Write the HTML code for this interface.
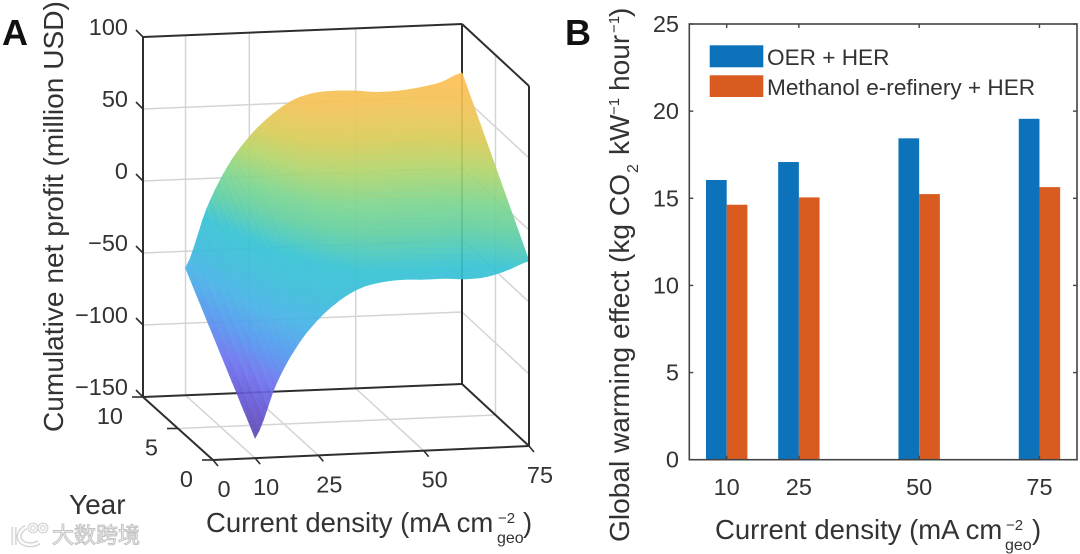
<!DOCTYPE html>
<html>
<head>
<meta charset="utf-8">
<style>
html,body{margin:0;padding:0;background:#fff;overflow:hidden;}
svg{display:block;filter:blur(0.35px);}
text{font-family:"Liberation Sans","Noto Sans CJK SC",sans-serif;fill:#333;}
</style>
</head>
<body>
<svg id="fig" width="1080" height="554" viewBox="0 0 1080 554">
  <g id="panelA"></g>
  <g id="panelB"></g>

  <text x="2" y="45" font-size="36" font-weight="bold" style="fill:#111">A</text>
  <text x="565" y="45" font-size="36" font-weight="bold" style="fill:#111">B</text>

  <text transform="translate(63,432) rotate(-90)" font-size="28.1">Cumulative net profit (million USD)</text>
  <text x="69" y="514" font-size="28">Year</text>
  <g>
    <text x="206" y="532" font-size="27.5">Current density (mA cm</text>
    <text x="498" y="523" font-size="15">−2</text>
    <text x="497" y="543" font-size="16">geo</text>
    <text x="523" y="532" font-size="27.5">)</text>
  </g>

  <g>
    <text transform="translate(629,542) rotate(-90)" font-size="28.1">Global warming effect (kg CO</text>
    <text transform="translate(638,173) rotate(-90)" font-size="16">2</text>
    <text transform="translate(629,155) rotate(-90)" font-size="28.1">kW</text>
    <text transform="translate(619,115) rotate(-90)" font-size="15">−1</text>
    <text transform="translate(629,91) rotate(-90)" font-size="28.1">hour</text>
    <text transform="translate(619,33) rotate(-90)" font-size="15">−1</text>
    <text transform="translate(629,17) rotate(-90)" font-size="28.1">)</text>
  </g>
  <g>
    <text x="715" y="539" font-size="27.5">Current density (mA cm</text>
    <text x="1006" y="530" font-size="15">−2</text>
    <text x="1005" y="550" font-size="16">geo</text>
    <text x="1032" y="539" font-size="27.5">)</text>
  </g>

  <g>
    <rect x="709.7" y="45.3" width="53.6" height="22" fill="#0c72ba"/>
    <text x="767" y="65" font-size="22.6">OER + HER</text>
    <rect x="709.7" y="75.3" width="53.6" height="21.7" fill="#d95b20"/>
    <text x="767" y="95" font-size="22.6">Methanol e-refinery + HER</text>
  </g>

  <g>
    <g fill="none" stroke="#cfcfcf" stroke-width="5">
      <path d="M14 527 L14 545"/>
      <path d="M26 527 C19 531 18 537 20 540 C24 546 34 546 39 542"/>
      <circle cx="33" cy="528" r="3.6" stroke-width="3.6"/>
      <circle cx="43" cy="528" r="3.6" stroke-width="3.6"/>
    </g>
    <g fill="none" stroke="#fbfbfb" stroke-width="2.6">
      <path d="M14 527 L14 545"/>
      <path d="M26 527 C19 531 18 537 20 540 C24 546 34 546 39 542"/>
      <circle cx="33" cy="528" r="3.6" stroke-width="1.6"/>
      <circle cx="43" cy="528" r="3.6" stroke-width="1.6"/>
    </g>
    <text x="52" y="543" font-size="22" style="fill:#f6f6f6;stroke:#c4c4c4;stroke-width:1">大数跨境</text>
  </g>
</svg>

<script>
// ---------- Panel A data ----------
var surfaceCurrents = [10,15,20,25,30,35,40,45,50,55,60,65,70,75];
var surfaceYears = [0,10];
var profitYear0 = [-136,-99,-73,-55.4,-43,-35,-31.6,-30.5,-31,-31,-32,-31,-27,-21.5];
var profitYear10 = [-61.6,-21,8,27.6,41.5,51.4,56,57,56.5,55,55.3,57,60,66];
var zTickValues = [100,50,0,-50,-100,-150];
var currentTicksA = [0,10,25,50,75];
var yearTicks = [0,5,10];

// ---------- Panel B data ----------
var barCategories = [10,25,50,75];
var oerHerValues = [16.05,17.08,18.44,19.56];
var methanolValues = [14.63,15.05,15.24,15.64];
var yTicksB = [0,5,10,15,20,25];

var NS = 'http://www.w3.org/2000/svg';
function mk(tag, parent, attrs){
  var e = document.createElementNS(NS, tag);
  for (var k in attrs) e.setAttribute(k, attrs[k]);
  parent.appendChild(e);
  return e;
}
function minusFmt(v){ return v < 0 ? '\u2212' + Math.abs(v) : String(v); }

// ---------- Panel A axes (box projection) ----------
var FL = [213,460], FR = [529,446], BL = [143,397], BR = [462,384];
var CUR_MAX = 75, YEAR_MAX = 10, Z_MIN = -150, Z_SCALE = 1.44;
function project(cur, year, z){
  var u = cur / CUR_MAX, v = year / YEAR_MAX;
  var fx = FL[0] + (FR[0]-FL[0])*u, fy = FL[1] + (FR[1]-FL[1])*u;
  var bx = BL[0] + (BR[0]-BL[0])*u, by = BL[1] + (BR[1]-BL[1])*u;
  return [fx + (bx-fx)*v, fy + (by-fy)*v - (z - Z_MIN)*Z_SCALE];
}
var A = document.getElementById('panelA');
function lineA(p, q, name, stroke, width){
  var l = mk('line', A, {x1:p[0], y1:p[1], x2:q[0], y2:q[1], stroke:stroke, 'stroke-width':width});
  
  
  return l;
}
var GRID = '#d4d4d4', BOX = '#2e2e2e';

// gridlines
zTickValues.forEach(function(z){
  if (z === 100 || z === -150) return;
  lineA(project(0,10,z), project(75,10,z), 'back-wall-gridline', GRID, 1.5);
  lineA(project(75,10,z), project(75,0,z), 'side-wall-gridline', GRID, 1.5);
});
currentTicksA.forEach(function(c){
  if (c === 0 || c === 75) return;
  lineA(project(c,10,-150), project(c,10,100), 'back-wall-gridline', GRID, 1.5);
  lineA(project(c,10,-150), project(c,0,-150), 'floor-gridline', GRID, 1.5);
});
lineA(project(75,5,-150), project(75,5,100), 'side-wall-gridline', GRID, 1.5);
lineA(project(0,5,-150), project(75,5,-150), 'floor-gridline', GRID, 1.5);

// back box edges (behind surface)
lineA(project(75,10,-150), project(75,10,100), 'box-back-vertical', BOX, 2);
lineA(project(0,10,-150), project(75,10,-150), 'box-back-bottom', BOX, 2);
lineA(project(75,10,-150), project(75,0,-150), 'box-right-bottom', BOX, 2);

// surface
var colorStops = [
  [-138,[94,70,169]],[-117,[100,87,213]],[-100,[110,114,239]],[-80,[82,152,239]],
  [-60,[70,179,230]],[-45,[59,187,219]],[-26,[54,195,212]],[-8,[100,208,160]],
  [3,[122,213,145]],[20,[178,213,108]],[34,[217,204,87]],[50,[243,195,87]],[66,[255,191,84]]
];
function surfaceColor(z){
  if (z <= colorStops[0][0]) return 'rgb(' + colorStops[0][1].join(',') + ')';
  for (var i = 1; i < colorStops.length; i++){
    if (z <= colorStops[i][0]){
      var a = colorStops[i-1], b = colorStops[i], t = (z-a[0])/(b[0]-a[0]);
      return 'rgb(' + [0,1,2].map(function(k){ return Math.round(a[1][k]+(b[1][k]-a[1][k])*t); }).join(',') + ')';
    }
  }
  return 'rgb(' + colorStops[colorStops.length-1][1].join(',') + ')';
}
function smoothAt(arr, c){
  var n = surfaceCurrents.length, i = 0;
  while (i < n-2 && c > surfaceCurrents[i+1]) i++;
  var t = (c - surfaceCurrents[i]) / (surfaceCurrents[i+1] - surfaceCurrents[i]);
  var p0 = arr[Math.max(i-1,0)], p1 = arr[i], p2 = arr[i+1], p3 = arr[Math.min(i+2,n-1)];
  return 0.5*((2*p1)+(-p0+p2)*t+(2*p0-5*p1+4*p2-p3)*t*t+(-p0+3*p1-3*p2+p3)*t*t*t);
}
function surfaceZ(c, y){
  var a = smoothAt(profitYear0, c), b = smoothAt(profitYear10, c);
  var y0 = surfaceYears[0], y1 = surfaceYears[surfaceYears.length-1];
  return a + (b-a)*(y-y0)/(y1-y0);
}
var surf = mk('g', A, {opacity:'0.92'});


var cStart = surfaceCurrents[0], cEnd = surfaceCurrents[surfaceCurrents.length-1];
var yStart = surfaceYears[0], yEnd = surfaceYears[surfaceYears.length-1];
var nC = 65, nY = 30;
for (var yi = 0; yi < nY; yi++){
  for (var ci = 0; ci < nC; ci++){
    var c0 = cStart + (cEnd-cStart)*ci/nC, c1 = cStart + (cEnd-cStart)*(ci+1)/nC;
    var y0 = yStart + (yEnd-yStart)*yi/nY, y1 = yStart + (yEnd-yStart)*(yi+1)/nY;
    var pts = [[c0,y0],[c1,y0],[c1,y1],[c0,y1]].map(function(q){
      var p = project(q[0], q[1], surfaceZ(q[0], q[1]));
      return p[0].toFixed(1) + ',' + p[1].toFixed(1);
    }).join(' ');
    var col = surfaceColor(surfaceZ((c0+c1)/2, (y0+y1)/2));
    var cell = mk('polygon', surf, {points:pts, fill:col, stroke:col, 'stroke-width':'0.7'});
    
    
  }
}

// front box edges
lineA(project(0,10,-150), project(0,10,100), 'box-left-vertical', BOX, 2);
lineA(project(0,10,100), project(75,10,100), 'box-top-back', BOX, 2);
lineA(project(75,10,100), project(75,0,100), 'box-top-right', BOX, 2);
lineA(project(75,0,100), project(75,0,-150), 'box-right-vertical', BOX, 2);
lineA(project(0,0,-150), project(75,0,-150), 'box-front-bottom', BOX, 2);
lineA(project(0,0,-150), project(0,10,-150), 'box-left-bottom', BOX, 2);

// z ticks
zTickValues.forEach(function(z){
  var p = project(0,10,z);
  lineA([p[0]-7,p[1]-7], p, 'z-tick', BOX, 1.6);
  var t = mk('text', A, {x:p[0]-15, y:p[1]-2, 'font-size':'23.5', 'text-anchor':'end'});
  
  
  t.textContent = minusFmt(z);
});
// year ticks
yearTicks.forEach(function(yr){
  var p = project(0,yr,-150);
  lineA([p[0]-11,p[1]], p, 'year-tick', BOX, 1.6);
  var t = mk('text', A, {x:p[0]-20, y:p[1]+27, 'font-size':'23.5', 'text-anchor':'end'});
  
  
  t.textContent = yr;
});
// current ticks
currentTicksA.forEach(function(c){
  var p = project(c,0,-150);
  lineA(p, [p[0]+5,p[1]+6], 'current-tick', BOX, 1.6);
  var t = mk('text', A, {x:p[0]+11, y:p[1]+37, 'font-size':'23.5', 'text-anchor':'middle'});
  
  
  t.textContent = c;
});

// ---------- Panel B ----------
var B = document.getElementById('panelB');
var bL = 689.3, bR = 1077, bT = 24, bB = 459.7;
var xMin = 2.23, xMax = 82.8, yMax = 25, barW = 20.7;
function xB(v){ return bL + (v-xMin)/(xMax-xMin)*(bR-bL); }
function yB(v){ return bB - v/yMax*(bB-bT); }

barCategories.forEach(function(cat, i){
  var bar1 = mk('rect', B, {x:xB(cat)-barW, y:yB(oerHerValues[i]), width:barW, height:bB-yB(oerHerValues[i]), fill:'#0c72ba'});
  
  
  var bar2 = mk('rect', B, {x:xB(cat), y:yB(methanolValues[i]), width:barW, height:bB-yB(methanolValues[i]), fill:'#d95b20'});
  
  
});
var frame = mk('rect', B, {x:bL, y:bT, width:bR-bL, height:bB-bT, fill:'none', stroke:'#444', 'stroke-width':'1.6'});



yTicksB.forEach(function(v){
  var y = yB(v);
  var t1 = mk('line', B, {x1:bL, y1:y, x2:bL+4, y2:y, stroke:'#444', 'stroke-width':'1.4'});
  
  
  var t2 = mk('line', B, {x1:bR-4, y1:y, x2:bR, y2:y, stroke:'#444', 'stroke-width':'1.4'});
  
  
  var lab = mk('text', B, {x:679, y:y+8, 'font-size':'23.5', 'text-anchor':'end'});
  
  
  lab.textContent = v;
});
barCategories.forEach(function(v){
  var x = xB(v);
  var t1 = mk('line', B, {x1:x, y1:bB, x2:x, y2:bB-4, stroke:'#444', 'stroke-width':'1.4'});
  
  
  var t2 = mk('line', B, {x1:x, y1:bT, x2:x, y2:bT+4, stroke:'#444', 'stroke-width':'1.4'});
  
  
  var lab = mk('text', B, {x:x, y:495, 'font-size':'23.5', 'text-anchor':'middle'});
  
  
  lab.textContent = v;
});
</script>
</body>
</html>
